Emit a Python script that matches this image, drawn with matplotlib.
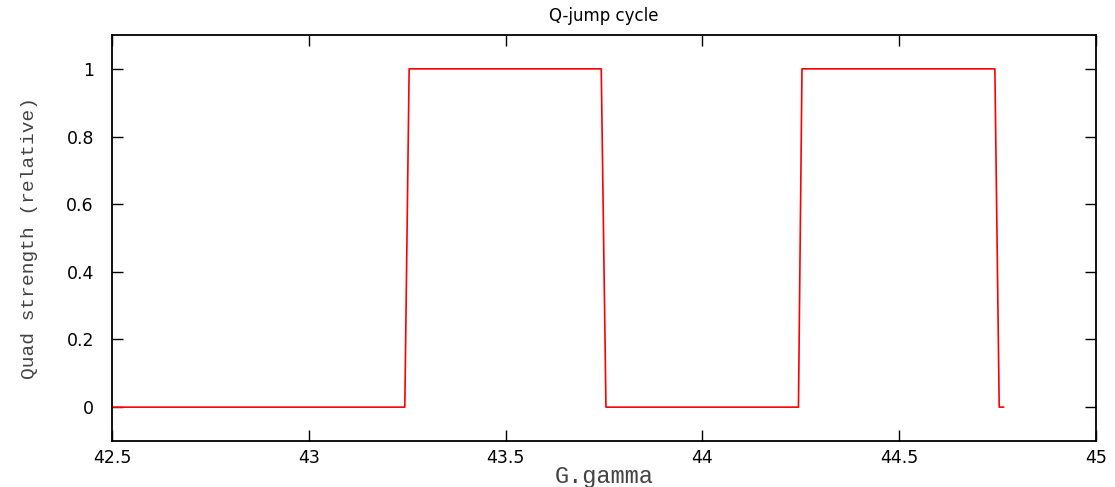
import matplotlib
matplotlib.use("Agg")
import matplotlib.pyplot as plt

# quad strength vs G.gamma
g_gamma = [42.5, 43.244, 43.255, 43.743, 43.755, 44.244, 44.253, 44.743, 44.754, 44.765]
quad_strength = [0, 0, 1, 1, 0, 0, 1, 1, 0, 0]

x_ticks = [42.5, 43, 43.5, 44, 44.5, 45]
x_tick_labels = ["42.5", "43", "43.5", "44", "44.5", "45"]
y_ticks = [0, 0.2, 0.4, 0.6, 0.8, 1]
y_tick_labels = ["0", "0.2", "0.4", "0.6", "0.8", "1"]

fig = plt.figure(figsize=(11.15, 4.87), dpi=100)
ax = fig.add_axes([0.1004, 0.0945, 0.8826, 0.8336])

ax.plot(g_gamma, quad_strength, color="#ff0000", linewidth=1.2)

ax.set_xlim(42.5, 45)
ax.set_ylim(-0.1, 1.1)
ax.set_xticks(x_ticks)
ax.set_xticklabels(x_tick_labels)
ax.set_yticks(y_ticks)
ax.set_yticklabels(y_tick_labels)

ax.tick_params(direction="in", length=8, width=1, top=True, right=True, labelsize=12.5)
ax.tick_params(axis="x", pad=6)
ax.tick_params(axis="y", pad=13)
for lab in ax.get_xticklabels() + ax.get_yticklabels():
    lab.set_family("DejaVu Sans")
for sp in ax.spines.values():
    sp.set_linewidth(1.3)

ax.set_title("Q-jump cycle", fontsize=12, family="DejaVu Sans", pad=10)
ax.set_xlabel("G.gamma", fontsize=17, family="Liberation Mono", color="#444444", labelpad=-2)
ax.set_ylabel("Quad strength (relative)", fontsize=14, family="Liberation Mono", color="#444444", labelpad=20)

fig.savefig("out.png", dpi=100)
